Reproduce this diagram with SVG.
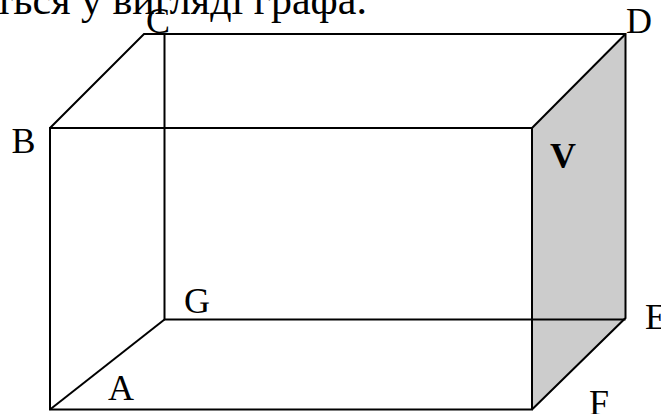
<svg xmlns="http://www.w3.org/2000/svg" width="661" height="414" viewBox="0 0 661 414">
<style>
text{font-family:"Liberation Serif","Times New Roman",serif;font-size:36px;fill:#000}
.l{fill:none;stroke:#000;stroke-width:2;stroke-linejoin:miter}
</style>
<rect width="661" height="414" fill="#fff"/>
<text id="caption" x="-5" y="13.500" style="font-size:42px">ться у вигляді графа.</text>
<g id="face-v"><polygon points="532,128 625.5,34 625.5,318 532,409.500" fill="#cccccc"/></g>
<g id="connectors">
<path class="l" d="M50,128H532V409.500H50Z"/>
<path class="l" d="M50,128L144,34H625.500V318L532,409.500"/>
<path class="l" d="M532,128L625.500,34"/>
<path class="l" d="M164.500,34V319.500H625.500"/>
<path class="l" d="M50,409.500L164.500,319.500"/>
</g>
<g id="node-a"><text x="108" y="400">A</text></g>
<g id="node-b"><text x="11.500" y="153">B</text></g>
<g id="node-c"><text x="146" y="33">C</text></g>
<g id="node-d"><text x="626" y="32.500">D</text></g>
<g id="node-e"><text x="645" y="329">E</text></g>
<g id="node-f"><text x="589" y="415">F</text></g>
<g id="node-g"><text x="184" y="312.500">G</text></g>
<g id="node-v"><text x="550" y="168" font-weight="bold">V</text></g>
</svg>
